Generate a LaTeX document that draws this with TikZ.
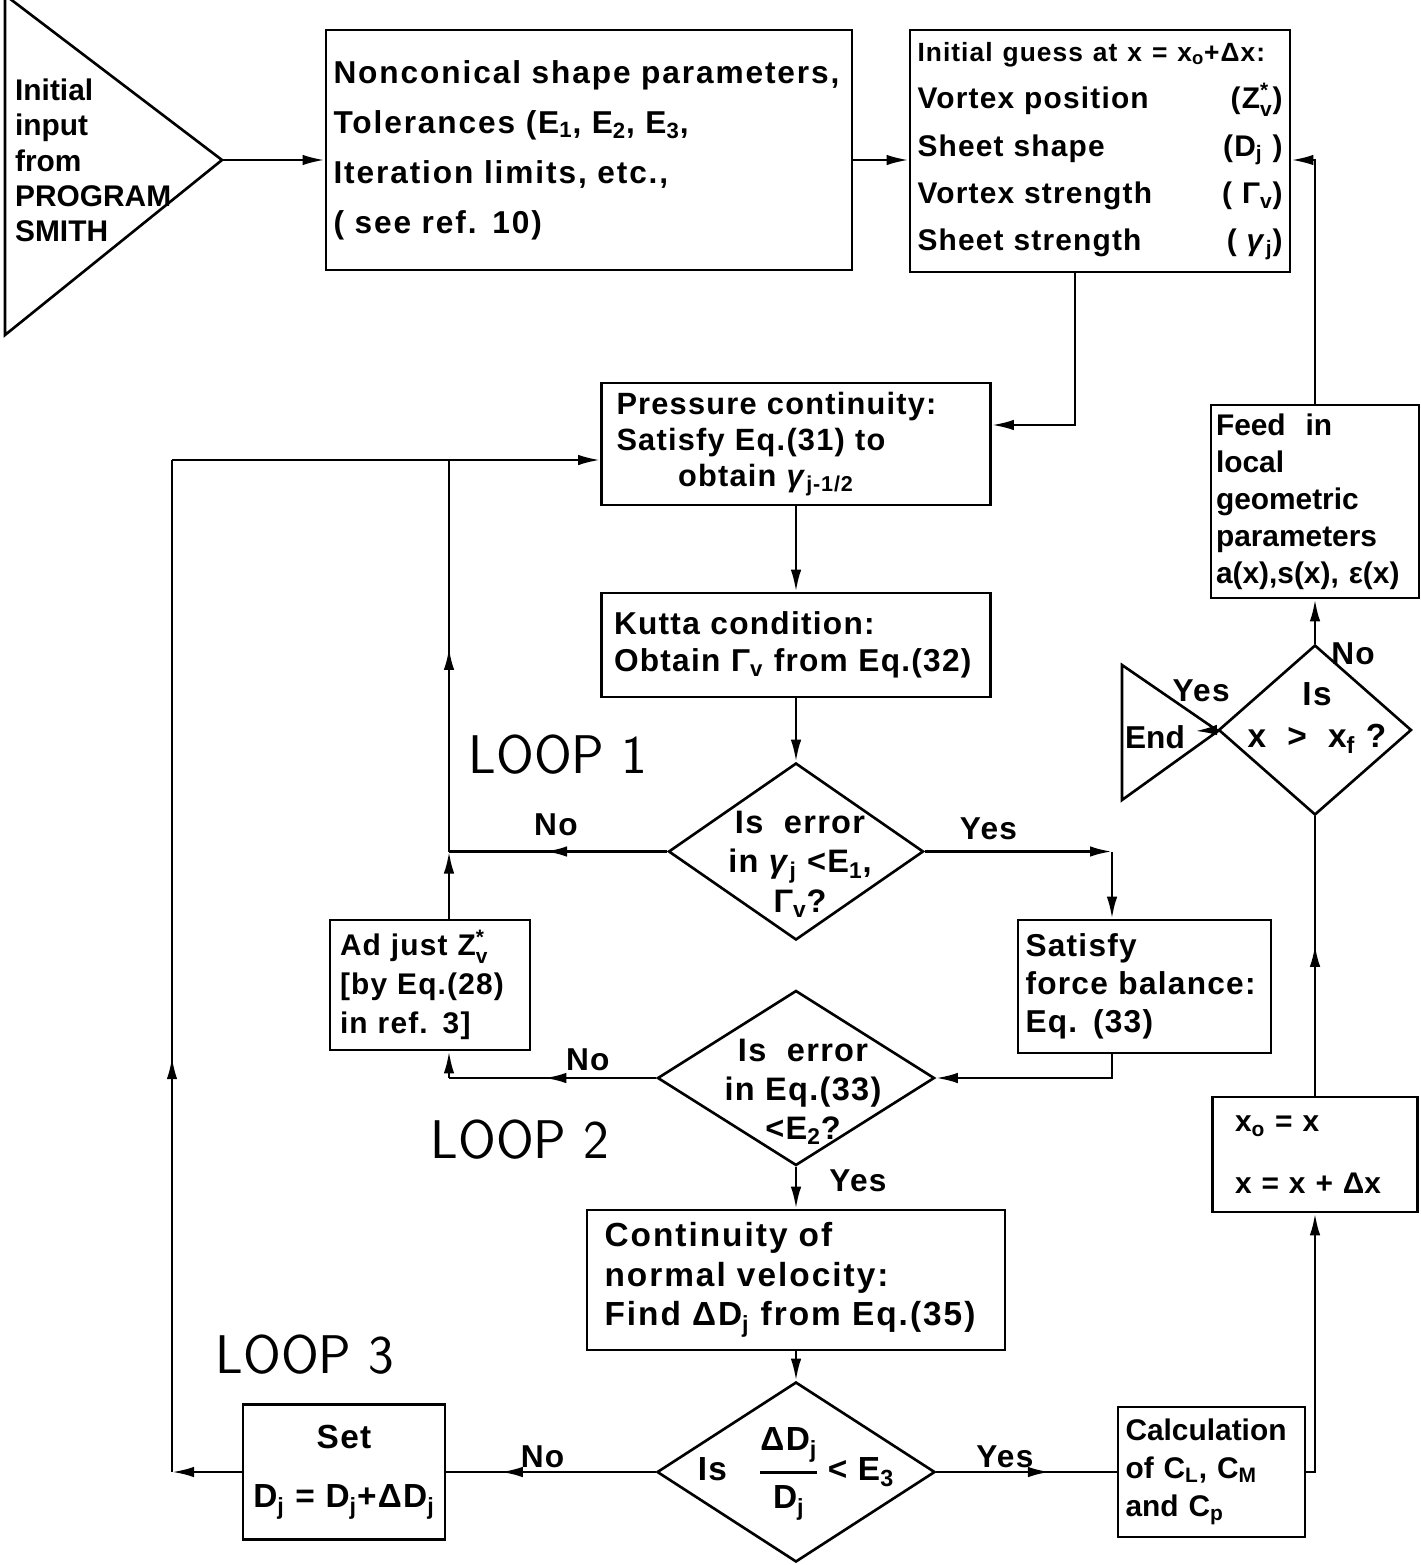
\documentclass[tikz,border=0pt]{standalone}
\usepackage{fontspec}
\setmainfont{Liberation Sans}
\usetikzlibrary{arrows.meta,shapes.geometric,decorations.markings}
\setlength{\arrayrulewidth}{1.5pt}
\newcommand{\sbs}[1]{\textsubscript{#1}}
\newcommand{\trackwide}{\addfontfeature{LetterSpace=4}}
\newcommand{\trackwider}{\addfontfeature{LetterSpace=6}}
\makeatletter
\newcommand{\supsub}[3]{#1\ensuremath{^{\mbox{\fontsize\sf@size\z@\selectfont #2}}_{\mbox{\fontsize\sf@size\z@\selectfont #3}}}}
\makeatother

\begin{document}
\begin{tikzpicture}[x=0.2mm, y=-0.2mm, line width=1.5pt,
  txt/.style 2 args={font=\bfseries\fontsize{#1}{#2}\selectfont\trackwide},
  wide/.style 2 args={font=\bfseries\fontsize{#1}{#2}\selectfont\trackwider},
  tight/.style 2 args={font=\bfseries\fontsize{#1}{#2}\selectfont},
  box/.style={draw, rectangle, align=left, inner ysep=0pt},
  ask/.style={draw, diamond, inner sep=0pt},
  answer/.style={font=\bfseries\fontsize{18}{20}\selectfont\trackwide, inner sep=0pt},
  looplbl/.style={font=\sffamily\fontsize{31}{36}\selectfont},
  >={Latex[length=4.4mm,width=2.1mm]},
  midarrow/.style={postaction={decorate}, decoration={markings, mark=at position #1 with {\arrow{>}}}}]

\useasboundingbox (0,0) rectangle (1420,1565);

\coordinate (inA) at (5,-5);
\coordinate (inTip) at (222,160);
\coordinate (inC) at (5,335);
\draw (inA) -- (inTip) -- (inC) -- cycle;
\node[tight={17}{20}, align=left, anchor=north west] (intext) at (8,72) {Initial\\input\\from\\PROGRAM\\SMITH};

\node[box, wide={18}{28.5}, minimum width=105.2mm, minimum height=48mm, inner xsep=1.5mm, text width=102.2mm] (params) at (589,150)
  {Nonconical shape parameters,\\Tolerances (E\sbs{1}, E\sbs{2}, E\sbs{3},\\Iteration limits, etc.,\\( see ref. 10)};

\node[box, txt={17}{27}, minimum width=76mm, minimum height=48.4mm, inner xsep=1.5mm, text width=73mm] (guess) at (1100,151)
  {{\fontsize{15}{27}\selectfont Initial guess at x = x\sbs{o}+Δx:}\\
   Vortex position\hfill(\supsub{Z}{*}{v})\\
   Sheet shape\hfill(D\sbs{j} )\\
   Vortex strength\hfill( Γ\sbs{v})\\
   Sheet strength\hfill( \textit{γ}\sbs{j})};

\node[box, txt={17.5}{20.5}, minimum width=77.8mm, minimum height=24.4mm, inner xsep=3mm, text width=71.8mm] (press) at (796,444)
  {Pressure continuity:\\Satisfy Eq.(31) to\\\hspace*{2em}obtain \textit{γ}\sbs{j-1/2}};

\node[box, txt={18}{21}, minimum width=77.8mm, minimum height=20.8mm, inner xsep=2.5mm, text width=72.8mm] (kutta) at (796,645)
  {Kutta condition:\\Obtain Γ\sbs{v} from Eq.(32)};

\node[box, txt={17}{22}, minimum width=40mm, minimum height=26mm, inner xsep=2mm, text width=36mm] (adjust) at (430,985)
  {Ad just \supsub{Z}{*}{v}\\{}[by Eq.(28)\\in ref. 3]};

\node[box, txt={18}{21.5}, minimum width=50.6mm, minimum height=26.6mm, inner xsep=1.5mm, text width=47.6mm] (satisfy) at (1144.5,986.5)
  {Satisfy\\force balance:\\Eq. (33)};

\node[box, wide={19}{22.5}, minimum width=83.6mm, minimum height=28mm, inner xsep=3.5mm, text width=76.6mm] (cont) at (796,1280)
  {Continuity of\\normal velocity:\\Find ΔD\sbs{j} from Eq.(35)};

\node[box, txt={19}{34}, align=center, minimum width=40.4mm, minimum height=27mm] (set) at (344,1472)
  {Set\\D\sbs{j} = D\sbs{j}+ΔD\sbs{j}};

\node[box, tight={17}{21.5}, minimum width=37.4mm, minimum height=26mm, inner xsep=1.5mm, text width=34.4mm] (calc) at (1211.5,1472)
  {Calculation\\of C\sbs{L}, C\sbs{M}\\and C\sbs{p}};

\node[box, tight={17}{35}, minimum width=41mm, minimum height=23mm, inner xsep=4.5mm, text width=32mm] (xo) at (1315,1154.5)
  {x\sbs{o} = x\\x = x + Δx};

\node[box, tight={17}{21}, minimum width=41.6mm, minimum height=38.6mm, inner xsep=1mm, text width=39.6mm] (feed) at (1315,501.5)
  {Feed \ in\\local\\geometric\\parameters\\a(x),s(x), ε(x)};

\node[ask, minimum width=51mm, minimum height=35.4mm] (d1) at (796,851.5) {};
\node[txt={18.5}{22.5}, align=center] (d1t) at (800,864) {Is \ error\\in \textit{γ}\sbs{j} <E\sbs{1},\\Γ\sbs{v}?};

\node[ask, minimum width=55.4mm, minimum height=35mm] (d2) at (796,1078) {};
\node[txt={18.5}{22}, align=center] (d2t) at (803,1092) {Is \ error\\in Eq.(33)\\<E\sbs{2}?};

\node[ask, minimum width=55.6mm, minimum height=36mm] (d3) at (796,1472) {};
\node[txt={19}{20}] (d3t) at (796,1473) {Is\quad\begin{tabular}{@{}c@{}}ΔD\sbs{j}\\[2mm]\hline\rule{0pt}{7mm}D\sbs{j}\end{tabular}\ < E\sbs{3}};

\node[ask, minimum width=38.6mm, minimum height=34mm] (d4) at (1315,730) {};
\node[txt={19}{24}, align=center] (d4t) at (1317,718) {Is\\x \ > \ x\sbs{f} ?};

\coordinate (endA) at (1122,665);
\coordinate (endB) at (1122,800);
\coordinate (endApex) at (1218,731);
\coordinate (endtip) at (1195,731);
\draw (endA) -- (endApex) -- (endB) -- cycle;
\node[tight={18}{20}] (endtext) at (1155,737) {End};

\node[looplbl] (loop1) at (558,755) {LOOP 1};
\node[looplbl] (loop2) at (520,1140) {LOOP 2};
\node[looplbl] (loop3) at (305,1355) {LOOP 3};

\coordinate (row1) at (0,160);
\coordinate (gdrop) at (1075,425);
\coordinate (loopin) at (0,460);
\coordinate (ybend) at (1112,0);
\coordinate (jx) at (449,0);
\coordinate (lx) at (172,0);

\draw[->] (inTip) -- (inTip -| params.west);
\draw[->] (params.east |- row1) -- (guess.west |- row1);
\draw[->] (feed.north) |- (guess.east |- row1);
\draw[->] (guess.south -| gdrop) |- (press.east |- gdrop);
\draw[->] (press.south) -- (kutta.north);
\draw[->] (kutta.south) -- (d1.north);

\draw[->] (d1.east) -- (d1.east -| ybend) node[pos=0.34, yshift=4.6mm, answer] (yes1) {Yes};
\draw[->] (d1.east -| ybend) -- (satisfy.north -| ybend);
\draw[->] (satisfy.south -| ybend) |- (d2.east);

\draw[midarrow=0.56] (d1.west) -- (d1.west -| jx) node[pos=0.51, yshift=5.4mm, answer] (no1) {No};
\draw[->] (adjust.north -| jx) -- (d1.west -| jx);
\draw[midarrow=0.52] (d1.west -| jx) -- (jx |- loopin);

\draw[midarrow=0.54] (d2.west) -- (d2.west -| jx) node[pos=0.33, yshift=3.6mm, answer] (no2) {No};
\draw[->] (d2.west -| jx) -- (adjust.south -| jx);
\draw[->] (d2.south) -- (cont.north) node[pos=0.33, xshift=12.4mm, answer] (yes2) {Yes};
\draw[->] (cont.south) -- (d3.north);

\draw[midarrow=0.63] (d3.east) -- (calc.west) node[pos=0.38, yshift=3mm, answer] (yes3) {Yes};
\draw[midarrow=0.74] (d3.west) -- (set.east) node[pos=0.54, yshift=3mm, answer] (no3) {No};

\draw[->] (set.west) -- (set.west -| lx);
\draw[midarrow=0.41] (set.west -| lx) -- (lx |- loopin);
\draw[->] (lx |- loopin) -- (press.west |- loopin);

\draw[->] (calc.east) -| (xo.south);
\draw[midarrow=0.54] (xo.north) -- (d4.south);
\draw[->] (d4.north) -- (feed.south) node[at start, xshift=7.6mm, yshift=-2mm, answer] (no4) {No};
\draw[->] (d4.west) -- (endtip) node[midway, xshift=-1mm, yshift=8mm, answer] (yes4) {Yes};

\end{tikzpicture}
\end{document}
